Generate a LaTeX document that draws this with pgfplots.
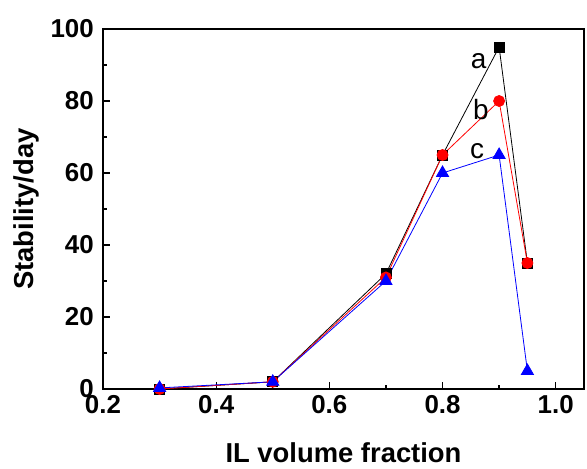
\documentclass[border=0pt]{standalone}
\usepackage{fontspec}
\setmainfont{Liberation Sans}
\usepackage{pgfplots}
\pgfplotsset{compat=1.18}
\begin{document}
\begin{tikzpicture}
\begin{axis}[
  scale only axis, width=481bp, height=360bp,
  xmin=0.2, xmax=1.05, ymin=0, ymax=100,
  xtick={0.2,0.4,0.6,0.8,1.0}, ytick={0,20,40,60,80,100},
  minor xtick={0.3,0.5,0.7,0.9}, minor ytick={10,30,50,70,90},
  xticklabel style={/pgf/number format/fixed, /pgf/number format/fixed zerofill, /pgf/number format/precision=1},
  /pgf/number format/assume math mode=true,
  tick label style={font=\fontsize{26}{26}\selectfont\bfseries, inner sep=0pt},
  y tick label style={xshift=-9bp},
  x tick label style={yshift=-6bp},
  tick align=inside, xtick pos=bottom, ytick pos=left,
  major tick length=7bp, minor tick length=4bp,
  axis line style={line width=1.5bp}, tick style={line width=1.3bp, black},
  xlabel={IL volume fraction}, ylabel={Stability/day},
  label style={font=\fontsize{27.5}{28}\selectfont\bfseries},
  xlabel style={at={(axis description cs:0.5,-0.205)}, anchor=base, inner sep=0pt},
  ylabel style={at={(axis description cs:-0.1435,0.5)}, anchor=base, rotate=0},
  clip=false,
]
\addplot[black, line width=0.8bp, mark=square*, mark size=5bp, mark options={solid}]
  coordinates {(0.3,0) (0.5,2) (0.7,32) (0.8,65) (0.9,95) (0.95,35)};
\addplot[red, line width=0.8bp, mark=*, mark size=5.5bp]
  coordinates {(0.3,0) (0.5,2) (0.7,31) (0.8,65) (0.9,80) (0.95,35)};
\addplot[blue, line width=0.8bp, mark=triangle*, mark size=7bp]
  coordinates {(0.3,0.3) (0.5,2) (0.7,30) (0.8,60) (0.9,65) (0.95,5)};
\node[font=\fontsize{28}{28}\selectfont] at (axis cs:0.864,91) {a};
\node[font=\fontsize{28}{28}\selectfont] at (axis cs:0.868,77.5) {b};
\node[font=\fontsize{28}{28}\selectfont] at (axis cs:0.861,66) {c};
\end{axis}
\pgfresetboundingbox
\useasboundingbox (-103bp,-80bp) rectangle (484bp,389bp);
\end{tikzpicture}
\end{document}
